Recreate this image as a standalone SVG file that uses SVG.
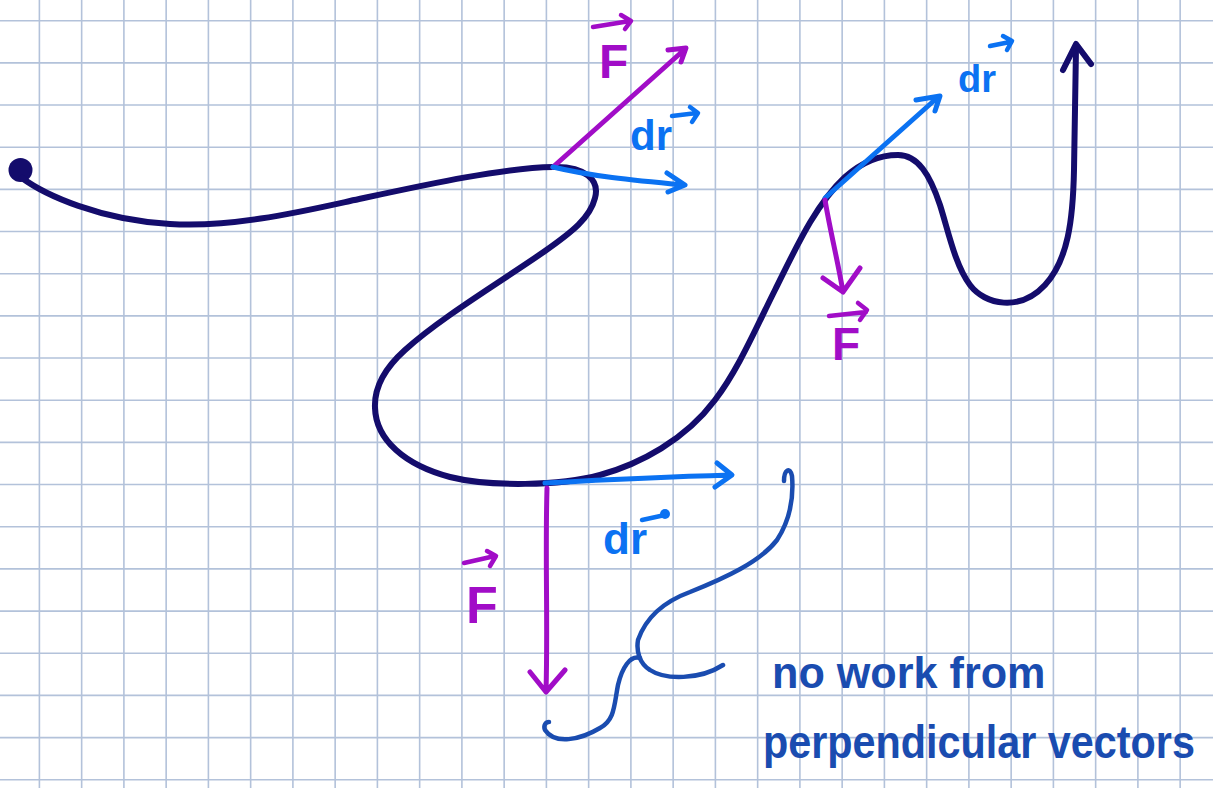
<svg xmlns="http://www.w3.org/2000/svg" width="1213" height="788" viewBox="0 0 1213 788">
<style>
.grid{stroke:#b3c2da;stroke-width:1.6;fill:none}
.s{fill:none;stroke-linecap:round;stroke-linejoin:round}
.path{stroke:#140c6c;stroke-width:6}
.mag{stroke:#a10dc7;stroke-width:5}
.blu{stroke:#0b72f2;stroke-width:5}
.ann{stroke:#1a4cb0;stroke-width:4.5}
.acc{stroke-width:4.5}
.lab{font-family:"Liberation Sans",Arial,sans-serif;font-weight:bold}
.tm{fill:#a10dc7}
.tb{fill:#0b72f2}
.tn{fill:#1a4cb0}
</style>
<rect width="1213" height="788" fill="#ffffff"/>
<g id="grid">
<path class="grid" d="M39.4 0V788M81.65 0V788M123.9 0V788M166.15 0V788M208.4 0V788M250.65 0V788M292.9 0V788M335.15 0V788M377.4 0V788M419.65 0V788M461.9 0V788M504.15 0V788M546.4 0V788M588.65 0V788M630.9 0V788M673.15 0V788M715.4 0V788M757.65 0V788M799.9 0V788M842.15 0V788M884.4 0V788M926.65 0V788M968.9 0V788M1011.15 0V788M1053.4 0V788M1095.65 0V788M1137.9 0V788M1180.15 0V788M0 20.7H1213M0 62.87H1213M0 105.04H1213M0 147.21H1213M0 189.38H1213M0 231.55H1213M0 273.72H1213M0 315.89H1213M0 358.06H1213M0 400.23H1213M0 442.4H1213M0 484.57H1213M0 526.74H1213M0 568.91H1213M0 611.08H1213M0 653.25H1213M0 695.42H1213M0 737.59H1213M0 779.76H1213"/>
</g>
<g id="trajectory">
<circle cx="20.5" cy="170" r="12" fill="#140c6c"/>
<path class="s path" d="M22 178 C45 195,100 220,170 224 C230 228,300 212,350 201 C420 186,500 168,553 167 C585 166,600 180,595 198 C590 218,572 232,545 251 C505 279,440 318,405 350 C385 368,374 388,375 408 C376 440,405 465,450 477 C490 487,560 486,600 475 C640 464,685 440,715 400 C738 370,755 330,775 290 C795 250,815 205,845 177 C862 162,880 155,898 155 C918 155,930 175,940 205 C948 230,955 265,970 285 C985 305,1020 312,1045 285 C1068 260,1073 220,1074 170 L1076 48"/>
<path class="s path" d="M1063 70 L1076 44 L1091 64"/>
</g>
<g id="connectors">
<path class="s mag" d="M553 167 L684 50 M668 50 L686 48 L681 62"/>
<path class="s blu" d="M553 167 C590 176,630 180,684 185 M667 173 L685 185 L668 192"/>
<path class="s blu" d="M825 198 L937 98 M916 100 L940 96 L935 111"/>
<path class="s mag" d="M825 200 C830 230,838 262,843 292 M823 278 L843 292 L860 268"/>
<path class="s blu" d="M545 483 C600 480,660 477,731 475 M717 463 L732 475 L715 487"/>
<path class="s mag" d="M547 488 C545 560,548 620,546 692 M530 672 L546 692 L565 670"/>
</g>
<g id="label-F-top">
<text class="lab tm" x="599" y="78" font-size="48">F</text>
<path class="s mag acc" d="M593 27 L630 21 M621 15 L631 21 L625 29"/>
</g>
<g id="label-dr-top">
<text class="lab tb" x="630" y="150" font-size="42">dr</text>
<path class="s blu acc" d="M672 116 L697 113 M690 107 L698 113 L692 122"/>
</g>
<g id="label-dr-right">
<text class="lab tb" x="958" y="92" font-size="38">dr</text>
<path class="s blu acc" d="M990 46 L1010 42 M1003 36 L1012 41 L1007 50"/>
</g>
<g id="label-F-right">
<text class="lab tm" x="832" y="360" font-size="46">F</text>
<path class="s mag acc" d="M829 316 L866 312 M858 303 L867 310 L860 320"/>
</g>
<g id="label-F-bottom">
<text class="lab tm" x="466" y="623" font-size="52">F</text>
<path class="s mag acc" d="M464 563 L495 556 M487 551 L496 556 L490 566"/>
</g>
<g id="label-dr-bottom">
<text class="lab tb" x="603" y="554" font-size="44">dr</text>
<path class="s blu acc" d="M642 520 L665 515"/>
<circle cx="665" cy="514" r="5" fill="#0b72f2"/>
</g>
<g id="annotation">
<path class="s ann" d="M784 481 C784 470,790 466,792 476 C794 500,790 520,777 540 C760 562,725 578,690 592 C660 603,645 620,638 640 C636 652,640 664,650 670 C665 680,700 680,723 665"/>
<path class="s ann" d="M640 658 C630 655,622 668,618 685 C614 705,615 720,600 728 C580 740,555 745,545 730 C543 725,546 722,549 722"/>
<text class="lab tn" transform="translate(772 688) scale(0.96 1)" x="0" y="0" font-size="45">no work from</text>
<text class="lab tn" transform="translate(763 758) scale(0.88 1)" x="0" y="0" font-size="47">perpendicular vectors</text>
</g>
</svg>
